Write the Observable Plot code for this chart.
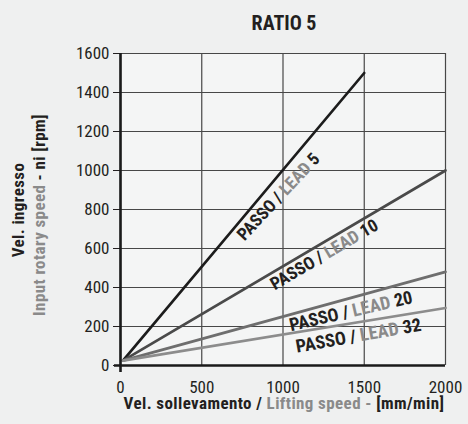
<!DOCTYPE html>
<html><head><meta charset="utf-8">
<script src="https://cdn.jsdelivr.net/npm/d3@7"></script>
<script src="https://cdn.jsdelivr.net/npm/@observablehq/plot@0.6"></script>
<style>
html,body{margin:0;padding:0;background:#eff0f0;overflow:hidden}
svg{display:block}
</style></head><body>
<div id="chart"></div>
<script>
// ---- data ----
const leads = [5, 10, 20, 32];
const speedStart = [15, 15, 15, 15];        // mm/min
const rpmStart = [25, 25, 25, 25];           // rpm
const speedEnd = [1500, 2000, 2000, 2000];  // mm/min
const rpmEnd = [1500, 1000, 480, 295];      // rpm
const xTicks = [0, 500, 1000, 1500, 2000];
const yTicks = [0, 200, 400, 600, 800, 1000, 1200, 1400, 1600];
const titleText = "RATIO 5";

// ---- label placement along each line ----
const labelSpeed = [910, 1220, 1400, 1450];
const labelAngle = [47, 30.5, 13, 10];
const labelOffset = [14, 11, 13, 13.5];
const labelLength = [112, 122, 126, 127];

const lineColor = ["#1c1c1c", "#4a4a4a", "#6e6e6e", "#8c8c8c"];
const dark = "#231f20", gray = "#8a8a8a";
const cond = "'Roboto Condensed', 'Liberation Sans', sans-serif";

const rows = leads.flatMap((lead, i) => [
  {lead, speed: speedStart[i], rpm: rpmStart[i]},
  {lead, speed: speedEnd[i], rpm: rpmEnd[i]}
]);

const labelMarks = leads.map((lead, i) => {
  const x = labelSpeed[i];
  const y = rpmStart[i] + (x - speedStart[i]) * (rpmEnd[i] - rpmStart[i]) / (speedEnd[i] - speedStart[i]);
  const a = labelAngle[i] * Math.PI / 180;
  return Plot.text([{speed: x, rpm: y, label: `PASSO / LEAD ${lead}`}], {
    x: "speed", y: "rpm", text: "label",
    rotate: -labelAngle[i],
    dx: labelOffset[i] * Math.sin(a),
    dy: labelOffset[i] * Math.cos(a),
    textAnchor: "middle", lineAnchor: "middle",
    fontSize: 17, fontWeight: "bold", fontFamily: cond, fill: dark
  });
});

const chart = Plot.plot({
  width: 468, height: 424,
  marginLeft: 120, marginRight: 23, marginTop: 53, marginBottom: 59,
  style: {background: "transparent", fontFamily: cond, fontSize: "17px", color: dark},
  x: {domain: [0, 2000]},
  y: {domain: [0, 1600]},
  color: {domain: leads, range: lineColor},
  marks: [
    Plot.frame({fill: "#f4f5f5", stroke: "none"}),
    Plot.gridX(xTicks, {stroke: "#474747", strokeOpacity: 1, strokeWidth: 1.2}),
    Plot.gridY(yTicks, {stroke: "#474747", strokeOpacity: 1, strokeWidth: 1.2}),
    Plot.axisY(yTicks, {tickSize: 7, tickPadding: 4, fontSize: 17, stroke: dark, fill: dark, label: null, tickFormat: d3.format("d")}),
    Plot.axisX(xTicks, {tickSize: 0, tickPadding: 15, fontSize: 17, fill: dark, label: null, tickFormat: d3.format("d")}),
    Plot.line(rows, {x: "speed", y: "rpm", z: "lead", stroke: "lead", strokeWidth: 2.7}),
    Plot.ruleX([0], {stroke: "#1a1a1a", strokeWidth: 2.6, insetBottom: -7}),
    Plot.ruleY([0], {stroke: "#1a1a1a", strokeWidth: 2.6, insetLeft: -6}),
    ...labelMarks
  ]
});

document.getElementById("chart").appendChild(chart);
const svg = d3.select(chart);

// multicolour line labels, sized to the reference label lengths
svg.selectAll('g[aria-label="text"] text').each(function () {
  const t = d3.select(this);
  const s = t.text();
  const m = s.match(/^(PASSO \/ )(LEAD)( (\d+))$/);
  if (!m) return;
  const i = leads.indexOf(+m[4]);
  t.text(null).attr("xml:space", "preserve");
  t.append("tspan").attr("fill", dark).text(m[1]);
  t.append("tspan").attr("fill", gray).text(m[2]);
  t.append("tspan").attr("fill", dark).text(m[3]);
  const len = this.getComputedTextLength();
  if (len > 0 && i >= 0) t.attr("font-size", 17 * labelLength[i] / len);
});

// title
svg.append("text")
  .attr("x", 284).attr("y", 30)
  .attr("text-anchor", "middle")
  .attr("font-family", cond).attr("font-weight", "bold").attr("font-size", 20)
  .attr("fill", dark).text(titleText);

// x label
const xl = svg.append("text")
  .attr("x", 284).attr("y", 409)
  .attr("text-anchor", "middle").attr("xml:space", "preserve")
  .attr("letter-spacing", 0.4)
  .attr("font-family", cond).attr("font-weight", "bold").attr("font-size", 17);
xl.append("tspan").attr("fill", dark).text("Vel. sollevamento / ");
xl.append("tspan").attr("fill", gray).text("Lifting speed - ");
xl.append("tspan").attr("fill", dark).text("[mm/min]");

// y label (two lines)
svg.append("text")
  .attr("transform", "translate(24,210) rotate(-90)")
  .attr("text-anchor", "middle").attr("letter-spacing", 0.4)
  .attr("font-family", cond).attr("font-weight", "bold").attr("font-size", 17)
  .attr("fill", dark).text("Vel. ingresso");
const y2 = svg.append("text")
  .attr("transform", "translate(44.5,215) rotate(-90)")
  .attr("text-anchor", "middle").attr("xml:space", "preserve").attr("letter-spacing", 0.4)
  .attr("font-family", cond).attr("font-weight", "bold").attr("font-size", 17);
y2.append("tspan").attr("fill", gray).text("Input rotary speed ");
y2.append("tspan").attr("fill", dark).text("- ni [rpm]");
</script>
</body></html>
